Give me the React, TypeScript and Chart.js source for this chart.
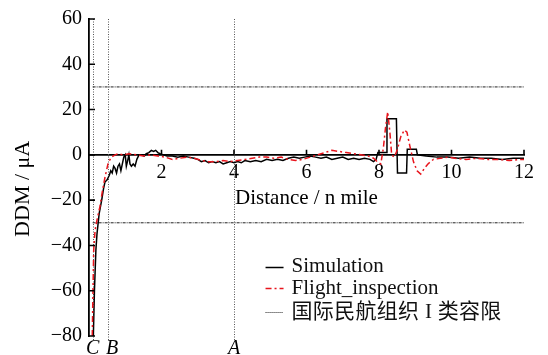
import React, { useEffect, useRef } from 'react';
import { Chart, registerables } from 'chart.js';
Chart.register(...registerables);

const seriesLabels = ['Simulation', 'Flight_inspection', '国际民航组织 I 类容限'];
const xTitle = 'Distance / n mile';
const yTitle = 'DDM / μA';

const simX = [0.12, 0.15, 0.19, 0.22, 0.28, 0.35, 0.40, 0.44, 0.50, 0.56, 0.60, 0.64, 0.68, 0.72, 0.76, 0.80, 0.84, 0.88, 0.92, 0.96, 1.00, 1.03, 1.06, 1.10, 1.13, 1.17, 1.22, 1.27, 1.32, 1.38, 1.45, 1.52, 1.58, 1.65, 1.72, 1.78, 1.84, 1.90, 1.96, 2.05, 2.15, 2.3, 2.45, 2.6, 2.75, 2.9, 3.0, 3.1, 3.2, 3.3, 3.4, 3.5, 3.6, 3.7, 3.8, 3.9, 4.0, 4.1, 4.2, 4.3, 4.45, 4.6, 4.75, 4.9, 5.05, 5.2, 5.35, 5.5, 5.65, 5.8, 5.95, 6.1, 6.25, 6.4, 6.55, 6.7, 6.85, 7.0, 7.15, 7.3, 7.45, 7.6, 7.75, 7.85, 7.92, 7.97, 8.2, 8.22, 8.48, 8.51, 8.76, 8.78, 9.03, 9.06, 9.3, 9.6, 9.9, 10.2, 10.5, 10.8, 11.1, 11.4, 11.7, 12.0];
const simY = [-80, -60, -42, -35, -26, -20, -15, -12, -11, -9, -7, -8, -5, -6, -8, -5, -4, -7, -4, -1, 0, -5, -3, 0, -4, -5, -4, -5, -2, 0, 0, -0.5, 0.5, 1, 2, 1.5, 2, 1, 0.5, 0, -0.5, -0.5, -1, -0.5, -1, -1.5, -2, -3, -2.5, -3.5, -3, -3.5, -3, -4, -3.5, -3, -3.5, -3, -3.5, -2.5, -3, -2.5, -3, -2, -2.5, -2, -2.5, -1.5, -1, -1.5, -1, -0.5, -1, -1.5, -1, -2, -1.5, -1, -2, -1.5, -2, -1.5, -2, -3, -2, 1, 1, 16, 16, -8, -8, 2.5, 2.5, 0, -0.5, -1, -1, -1.5, -1, -1.5, -1.5, -2, -1.5, -1.5];

const fliX = [0.09, 0.11, 0.13, 0.17, 0.23, 0.30, 0.37, 0.44, 0.53, 0.62, 0.72, 0.80, 0.95, 1.1, 1.3, 1.5, 1.7, 1.9, 2.1, 2.3, 2.5, 2.7, 2.9, 3.1, 3.3, 3.5, 3.7, 3.9, 4.1, 4.3, 4.5, 4.7, 4.9, 5.1, 5.3, 5.5, 5.7, 5.9, 6.1, 6.3, 6.5, 6.7, 6.9, 7.1, 7.3, 7.5, 7.7, 7.85, 7.95, 8.05, 8.12, 8.18, 8.24, 8.30, 8.35, 8.42, 8.5, 8.6, 8.7, 8.77, 8.85, 8.95, 9.05, 9.15, 9.25, 9.35, 9.5, 9.7, 9.9, 10.1, 10.4, 10.7, 11.0, 11.3, 11.6, 11.9, 12.0];
const fliY = [-80, -60, -42, -33, -28, -23, -16, -10, -3.5, -1, 0, 0.5, 0, 0.5, 0, -0.5, 0, -0.5, -1, -2, -1.5, -1, -1.5, -2.5, -3, -3, -2.5, -3, -2.5, -2, -1.5, -1, -1, -1.5, -1, -2, -2.5, -2, -1, 0, 1, 2, 1.5, 1, 0.5, 0, -0.5, -1.5, -3, -4, 3, 12, 19, 10, 0, -1, 2, 8, 11, 10, 4, -3, -7, -8.5, -6, -4, -2, -1.5, -1, -1.5, -2, -1.5, -2, -2, -2.5, -2, -2];

const limitX = [0.1, 12];
const limitUpper = 30;
const limitLower = -30;

const markerX = [0.1, 0.53, 4];
const markerLabels = ['C', 'B', 'A'];

const xTicks = [2, 4, 6, 8, 10, 12];
const yTicks = [60, 40, 20, 0, -20, -40, -60, -80];

const SERIF = "'Liberation Serif', 'Times New Roman', 'Noto Sans CJK SC', serif";

const extrasPlugin = {
  id: 'extras',
  beforeDatasetsDraw(chart: any) {
    const { ctx, chartArea, scales } = chart;
    const xs = scales.x;
    ctx.save();
    ctx.strokeStyle = '#555';
    ctx.lineWidth = 1;
    ctx.setLineDash([1, 1.5]);
    markerX.forEach((v) => {
      const px = Math.round(xs.getPixelForValue(v)) + 0.5;
      ctx.beginPath();
      ctx.moveTo(px, chartArea.top);
      ctx.lineTo(px, chartArea.bottom + 4);
      ctx.stroke();
    });
    ctx.restore();
  },
  afterDraw(chart: any) {
    const { ctx, chartArea, scales } = chart;
    const xs = scales.x;
    const ys = scales.y;
    ctx.save();
    // tick marks (inward)
    ctx.strokeStyle = '#000';
    ctx.lineWidth = 1.6;
    const y0 = ys.getPixelForValue(0);
    ctx.beginPath();
    xTicks.forEach((v) => {
      const px = xs.getPixelForValue(v);
      ctx.moveTo(px, y0);
      ctx.lineTo(px, y0 - 5);
    });
    yTicks.forEach((v) => {
      const py = ys.getPixelForValue(v);
      ctx.moveTo(chartArea.left, py);
      ctx.lineTo(chartArea.left + 6, py);
    });
    ctx.stroke();
    // y-axis title
    ctx.fillStyle = '#000';
    ctx.save();
    ctx.translate(23, ys.getPixelForValue(-15));
    ctx.rotate(-Math.PI / 2);
    ctx.font = `22px ${SERIF}`;
    ctx.textAlign = 'center';
    ctx.textBaseline = 'middle';
    ctx.fillText(yTitle, 0, 0);
    ctx.restore();
    // marker labels
    ctx.font = "italic 20px 'Liberation Serif', serif";
    ctx.textAlign = 'center';
    ctx.textBaseline = 'top';
    markerX.forEach((v, i) => {
      const px = xs.getPixelForValue(v) + (i === 1 ? 4 : 0);
      ctx.fillText(markerLabels[i], px, chartArea.bottom + 3);
    });
    // legend
    const lx0 = xs.getPixelForValue(4.87);
    const lx1 = lx0 + 18;
    const rows = [ys.getPixelForValue(-49.5), ys.getPixelForValue(-59), ys.getPixelForValue(-69.5)];
    chart.data.datasets.forEach((ds: any, i: number) => {
      const ry = rows[i];
      ctx.strokeStyle = ds.borderColor;
      ctx.lineWidth = i === 2 ? 1 : ds.borderWidth;
      ctx.setLineDash(i === 2 ? [1, 1] : (ds.borderDash || []));
      ctx.beginPath();
      ctx.moveTo(lx0, Math.round(ry) + 0.5);
      ctx.lineTo(lx1, Math.round(ry) + 0.5);
      ctx.stroke();
      ctx.setLineDash([]);
      ctx.fillStyle = '#111';
      ctx.font = `21px ${SERIF}`;
      ctx.textAlign = 'left';
      ctx.textBaseline = 'middle';
      (ctx as any).letterSpacing = i === 2 ? '0.3px' : '0px';
      ctx.fillText(ds.label, lx1 + 8, ry);
      (ctx as any).letterSpacing = '0px';
    });
    ctx.restore();
  },
};

export default function App() {
  const ref = useRef<HTMLCanvasElement | null>(null);
  useEffect(() => {
    if (!ref.current) return;
    const chart = new Chart(ref.current, {
      type: 'line',
      data: {
        datasets: [
          {
            label: seriesLabels[0],
            data: simX.map((x, i) => ({ x, y: simY[i] })),
            borderColor: '#000',
            borderWidth: 1.5,
            pointRadius: 0,
            tension: 0,
            order: 1,
          },
          {
            label: seriesLabels[1],
            data: fliX.map((x, i) => ({ x, y: fliY[i] })),
            borderColor: '#e8141c',
            borderWidth: 1.5,
            borderDash: [6, 3, 2, 3],
            pointRadius: 0,
            tension: 0,
            order: 0,
          },
          {
            label: seriesLabels[2],
            data: [
              { x: limitX[0], y: limitUpper },
              { x: limitX[1], y: limitUpper },
              { x: 6, y: null },
              { x: limitX[0], y: limitLower },
              { x: limitX[1], y: limitLower },
            ],
            borderColor: '#222',
            borderWidth: 1,
            borderDash: [3, 1, 1, 1],
            pointRadius: 0,
            spanGaps: false,
            order: 2,
          },
        ],
      } as any,
      options: {
        responsive: false,
        animation: false,
        maintainAspectRatio: false,
        parsing: false as any,
        layout: { padding: { top: 18, right: 24, bottom: 19, left: 0 } },
        plugins: { legend: { display: false }, tooltip: { enabled: false } },
        scales: {
          x: {
            type: 'linear',
            min: 0,
            max: 12,
            position: { y: 0 } as any,
            grid: { display: false, drawTicks: false },
            border: { display: true, color: '#000', width: 1.8 },
            ticks: {
              stepSize: 2,
              padding: 6,
              color: '#000',
              font: { family: SERIF, size: 20 },
              maxRotation: 0,
              callback: (v: any) => (xTicks.includes(Number(v)) ? String(v) : null),
            },
            title: {
              display: true,
              text: xTitle,
              color: '#000',
              font: { family: SERIF, size: 21 },
              padding: 0,
            },
            afterFit: (s: any) => {
              s.height = 56;
            },
          },
          y: {
            type: 'linear',
            min: -80,
            max: 60,
            position: 'left',
            grid: { display: false, drawTicks: false },
            border: { display: true, color: '#000', width: 1.8 },
            ticks: {
              stepSize: 20,
              padding: 7,
              color: '#000',
              font: { family: SERIF, size: 20 },
              callback: (v: any) => (yTicks.includes(Number(v)) ? String(v).replace('-', '\u2212') : null),
            },
            title: { display: false },
            afterFit: (s: any) => {
              s.width = 89;
            },
          },
        },
      },
      plugins: [extrasPlugin],
    });
    return () => chart.destroy();
  }, []);
  return (
    <div style={{ position: 'fixed', left: 0, top: 0, width: 548, height: 355, background: '#fff' }}>
      <canvas ref={ref} width={548} height={355} style={{ width: 548, height: 355 }} />
    </div>
  );
}
